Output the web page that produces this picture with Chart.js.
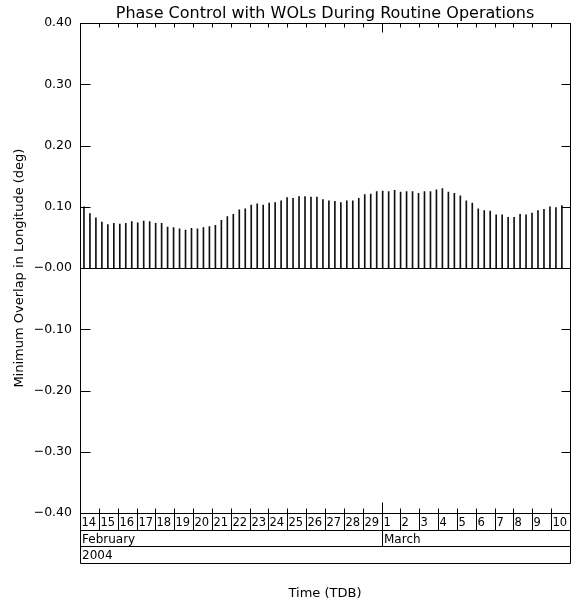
<!DOCTYPE html>
<html>
<head>
<meta charset="utf-8">
<script src="https://cdn.jsdelivr.net/npm/chart.js@4/dist/chart.umd.min.js"></script>
<style>
    html, body { margin: 0; padding: 0; background: #fff; }
</style>
</head>
<body>
<canvas id="chartOverlap" width="571" height="603"></canvas>
<script>
// Minimum overlap in longitude (deg), one bar per sample
const overlapDeg = [
    0.100, 0.089, 0.082, 0.075, 0.071, 0.073, 0.072, 0.073, 0.076, 0.074,
    0.077, 0.076, 0.073, 0.073, 0.067, 0.066, 0.064, 0.062, 0.065, 0.064,
    0.066, 0.068, 0.070, 0.078, 0.084, 0.088, 0.095, 0.097, 0.103, 0.105,
    0.103, 0.106, 0.107, 0.110, 0.115, 0.114, 0.117, 0.117, 0.116, 0.116,
    0.112, 0.110, 0.109, 0.107, 0.110, 0.110, 0.114, 0.120, 0.121, 0.125,
    0.126, 0.125, 0.127, 0.124, 0.125, 0.125, 0.122, 0.125, 0.125, 0.128,
    0.130, 0.124, 0.122, 0.118, 0.110, 0.106, 0.097, 0.094, 0.093, 0.087,
    0.087, 0.083, 0.083, 0.088, 0.087, 0.090, 0.094, 0.096, 0.100, 0.099,
    0.102
];

// Sample grid, in days after 14 Feb 2004 00:00 TDB
const sampleStartDay = 0.21;
const sampleStepDay = 0.317;

// Bottom date table
const dayLabels = ['14', '15', '16', '17', '18', '19', '20', '21', '22', '23', '24', '25', '26', '27', '28', '29',
                   '1', '2', '3', '4', '5', '6', '7', '8', '9', '10'];
const monthNames = ['February', 'March'];
const monthStartDay = [0, 16];
const yearNames = ['2004'];

const yTickLabels = ['\u22120.40', '\u22120.30', '\u22120.20', '\u22120.10', '\u22120.00', '0.10', '0.20', '0.30', '0.40'];

Chart.defaults.font.family = "'DejaVu Sans', sans-serif";
Chart.defaults.color = '#000';

// Frame, inward ticks, zero line and the date table under the plot
const frameAndTable = {
    id: 'frameAndTable',
    afterDatasetsDraw(chart) {
        const { ctx, scales: { x, y } } = chart;
        const px = v => Math.round(x.getPixelForValue(v)) + 0.5;
        const py = v => Math.round(y.getPixelForValue(v)) + 0.5;
        const line = (x1, y1, x2, y2) => {
            ctx.beginPath();
            ctx.moveTo(x1, y1);
            ctx.lineTo(x2, y2);
            ctx.stroke();
        };

        ctx.save();
        ctx.strokeStyle = '#000';
        ctx.lineWidth = 1;

        const L = px(x.min), R = px(x.max), T = py(y.max), B = py(y.min);

        line(L, py(0), R, py(0));
        ctx.strokeRect(L, T, R - L, B - T);

        y.ticks.forEach(t => {
            const yy = py(t.value);
            line(L, yy, L + 10, yy);
            line(R, yy, R - 9, yy);
        });

        for (let d = 1; d < dayLabels.length; d++) {
            const xx = px(d);
            const isMonth = monthStartDay.includes(d);
            line(xx, T, xx, T + (isMonth ? 9 : 4));
            line(xx, B, xx, B - (isMonth ? 11 : 5));
        }

        // table rows
        const r1 = B + 17, r2 = B + 33, r3 = B + 50;
        line(L, r1, R, r1);
        line(L, r2, R, r2);
        line(L, r3, R, r3);
        line(L, B, L, r3);
        line(R, B, R, r3);
        for (let d = 1; d < dayLabels.length; d++) {
            line(px(d), B, px(d), r1);
        }
        monthStartDay.forEach(d => {
            if (d > 0) line(px(d), r1, px(d), r2);
        });

        ctx.fillStyle = '#000';
        ctx.textAlign = 'left';
        ctx.textBaseline = 'middle';
        ctx.font = "11.5px 'DejaVu Sans', sans-serif";
        dayLabels.forEach((lab, d) => {
            ctx.fillText(lab, px(d) + 1, (B + r1) / 2 + 1);
        });
        ctx.font = "12px 'DejaVu Sans', sans-serif";
        monthNames.forEach((m, i) => {
            ctx.fillText(m, px(monthStartDay[i]) + 1.5, (r1 + r2) / 2 + 1);
        });
        yearNames.forEach(yr => {
            ctx.fillText(yr, L + 1.5, (r2 + r3) / 2 + 1);
        });

        ctx.restore();
    }
};

const points = overlapDeg.map((v, i) => ({ x: sampleStartDay + i * sampleStepDay, y: v }));

new Chart(document.getElementById('chartOverlap'), {
    type: 'bar',
    data: {
        datasets: [{
            data: points,
            backgroundColor: '#111',
            borderWidth: 0,
            barThickness: 1
        }]
    },
    options: {
        responsive: false,
        animation: false,
        devicePixelRatio: 1,
        layout: { padding: { left: 0, right: 1, top: 0, bottom: 0 } },
        plugins: {
            legend: { display: false },
            tooltip: { enabled: false },
            title: {
                display: true,
                fullSize: false,
                text: 'Phase Control with WOLs During Routine Operations',
                color: '#000',
                font: { size: 16, weight: 'normal', lineHeight: 1.2 },
                padding: { top: 4, bottom: 0 }
            }
        },
        scales: {
            x: {
                type: 'linear',
                offset: false,
                min: 0,
                max: dayLabels.length,
                grid: { display: false, drawTicks: false },
                border: { display: false },
                ticks: { display: false },
                title: {
                    display: true,
                    text: 'Time (TDB)',
                    font: { size: 13 },
                    padding: { top: 0, bottom: 2 }
                },
                afterFit(scale) { scale.height = 90; }
            },
            y: {
                min: -0.4,
                max: 0.4,
                grid: { display: false, drawTicks: false },
                border: { display: false },
                ticks: {
                    stepSize: 0.1,
                    padding: 8,
                    font: { size: 12.5 },
                    callback: (v, i) => yTickLabels[i]
                },
                title: {
                    display: true,
                    text: 'Minimum Overlap in Longitude (deg)',
                    font: { size: 13 },
                    padding: { top: 12, bottom: 0 }
                },
                afterFit(scale) { scale.width = 80; }
            }
        }
    },
    plugins: [frameAndTable]
});
</script>
</body>
</html>
